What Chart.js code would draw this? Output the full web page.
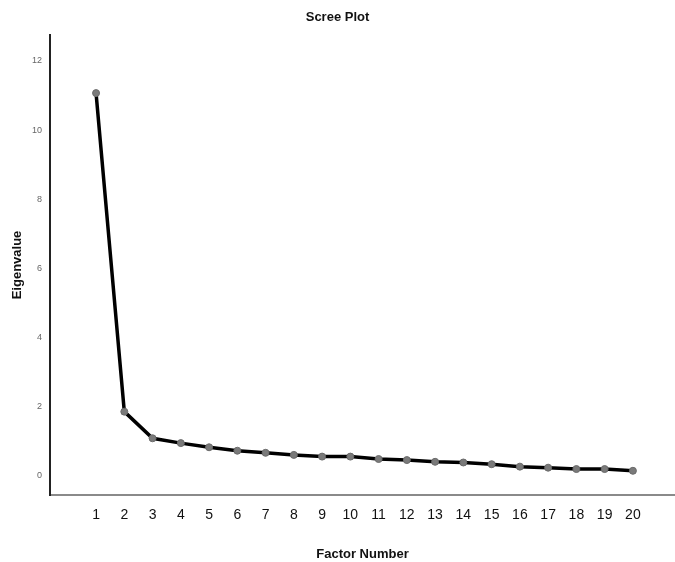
<!DOCTYPE html>
<html>
<head>
<meta charset="utf-8">
<script src="https://cdn.jsdelivr.net/npm/chart.js@4"></script>
<style>
  html, body { margin: 0; padding: 0; background: #fff; }
  canvas { display: block; }
</style>
</head>
<body>
<canvas id="screeChart" width="675" height="562"></canvas>
<script>
const factors = [1, 2, 3, 4, 5, 6, 7, 8, 9, 10, 11, 12, 13, 14, 15, 16, 17, 18, 19, 20];
const eigenvalues = [11.07, 1.86, 1.09, 0.95, 0.83, 0.73, 0.67, 0.61, 0.56, 0.56,
                     0.49, 0.46, 0.41, 0.39, 0.34, 0.27, 0.24, 0.2, 0.2, 0.15];
const yTicks = [0, 2, 4, 6, 8, 10, 12];

document.addEventListener("DOMContentLoaded", () => {
  const ctx = document.getElementById("screeChart").getContext("2d");

  const points = factors.map((f, i) => ({ x: f, y: eigenvalues[i] }));

  new Chart(ctx, {
    type: "line",
    data: {
      datasets: [
        {
          label: "Eigenvalue",
          data: points,
          borderColor: "#000",
          borderWidth: 3.5,
          pointRadius: 3.5,
          pointBackgroundColor: "#7a7a7a",
          pointBorderColor: "#6a6a6a",
          pointBorderWidth: 1,
          tension: 0,
        },
      ],
    },
    options: {
      responsive: false,
      animation: false,
      layout: { padding: 0, autoPadding: false },
      plugins: {
        legend: { display: false },
        tooltip: { enabled: false },
        title: {
          display: true,
          text: "Scree Plot",
          color: "#111",
          font: { family: "Liberation Sans", size: 13, weight: "bold" },
          padding: { top: 9.5, bottom: 9.9 },
        },
      },
      scales: {
        x: {
          type: "linear",
          min: -0.63,
          max: 21.49,
          afterBuildTicks: (s) => { s.ticks = factors.map((v) => ({ value: v })); },
          afterFit: (s) => { s.height = 67; },
          grid: { display: false, drawTicks: false },
          border: { display: true, color: "#8a8a8a", width: 2 },
          ticks: {
            color: "#111",
            padding: 12,
            maxRotation: 0,
            autoSkip: false,
            font: { family: "Liberation Sans", size: 14 },
          },
          title: {
            display: true,
            text: "Factor Number",
            color: "#111",
            font: { family: "Liberation Sans", size: 13, weight: "bold" },
            padding: { top: 4, bottom: 0 },
          },
        },
        y: {
          min: -0.55,
          max: 12.75,
          afterBuildTicks: (s) => { s.ticks = yTicks.map((v) => ({ value: v })); },
          afterFit: (s) => { s.width = 50; },
          grid: { display: false, drawTicks: false },
          border: { display: true, color: "#222", width: 2 },
          ticks: {
            color: "#666",
            padding: 8,
            font: { family: "Liberation Sans", size: 9 },
          },
          title: {
            display: true,
            text: "Eigenvalue",
            color: "#111",
            font: { family: "Liberation Sans", size: 13, weight: "bold" },
            padding: { top: 10, bottom: 0 },
          },
        },
      },
    },
  });
});
</script>
</body>
</html>
